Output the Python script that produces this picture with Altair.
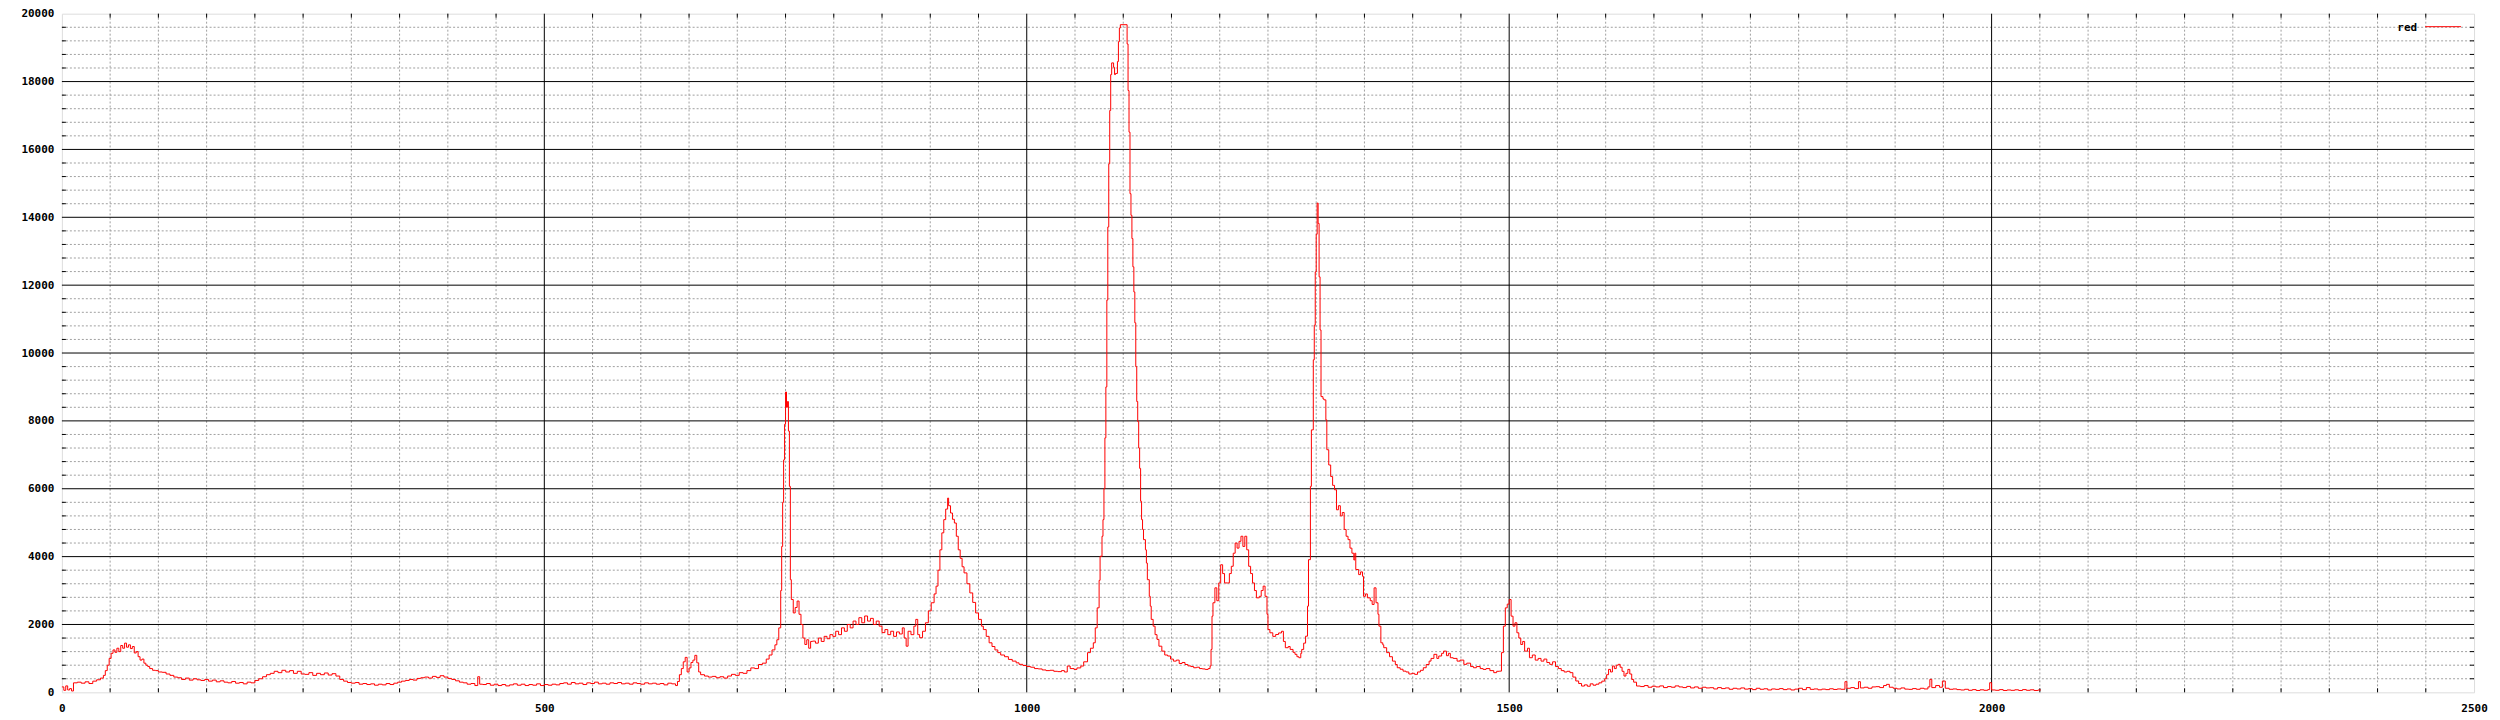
import altair as alt
import pandas as pd

# (channel, count) samples
seg_0_500 = [
    (0, 160), (2, 60), (4, 190), (6, 70), (8, 110), (10, 40), (12, 280), (16, 300), (20, 270), (24, 310),
    (28, 260), (32, 330), (36, 370), (40, 420), (43, 500), (45, 640), (47, 800), (49, 1000), (51, 1150),
    (53, 1250), (55, 1180), (57, 1300), (59, 1200), (61, 1380), (63, 1300), (65, 1450), (67, 1330), (69, 1400),
    (71, 1290), (73, 1350), (75, 1160), (77, 1200), (79, 1050), (81, 950), (83, 980), (85, 860), (87, 800),
    (89, 760), (91, 700), (94, 650), (97, 640), (100, 600), (104, 590), (108, 540), (112, 500), (116, 450),
    (120, 430), (124, 380), (128, 420), (132, 360), (136, 400), (140, 370), (144, 350), (148, 380), (152, 330),
    (156, 360), (160, 310), (164, 340), (168, 300), (172, 280), (176, 320), (180, 270), (184, 290), (188, 250),
    (192, 300), (196, 280), (200, 350), (204, 400), (208, 460), (212, 520), (216, 560), (220, 620), (224, 580),
    (228, 650), (232, 600), (236, 640), (240, 560), (244, 620), (248, 540), (252, 530), (256, 580), (260, 500),
    (264, 560), (268, 520), (272, 570), (276, 510), (280, 550), (284, 480), (288, 380), (292, 330), (296, 290),
    (300, 270), (304, 290), (308, 240), (312, 260), (316, 230), (320, 250), (324, 210), (328, 240), (332, 220),
    (336, 260), (340, 230), (344, 270), (348, 300), (352, 330), (356, 350), (360, 380), (364, 360), (368, 410),
    (372, 430), (376, 450), (380, 420), (384, 470), (388, 440), (392, 490), (396, 450), (400, 410), (404, 380),
    (408, 340), (412, 300), (416, 280), (420, 240), (424, 260), (428, 200), (431, 460), (433, 240), (436, 230),
    (440, 260), (444, 210), (448, 240), (452, 200), (456, 230), (460, 190), (464, 220), (468, 250), (472, 210),
    (476, 240), (480, 200), (484, 230), (488, 210), (492, 250), (496, 200),
]
seg_500_1000 = [
    (500, 230), (504, 210), (508, 240), (512, 220), (516, 260), (520, 280), (524, 240), (528, 290), (532, 250),
    (536, 270), (540, 230), (544, 280), (548, 260), (552, 300), (556, 250), (560, 270), (564, 240), (568, 280),
    (572, 260), (576, 290), (580, 250), (584, 270), (588, 240), (592, 280), (596, 260), (600, 240), (604, 280),
    (608, 250), (612, 270), (616, 240), (620, 260), (624, 220), (628, 270), (632, 250), (636, 200), (638, 320),
    (640, 520), (642, 700), (644, 900), (646, 1030), (648, 600), (650, 720), (652, 880), (654, 950), (656, 1090),
    (658, 870), (660, 600), (662, 520), (666, 480), (670, 450), (674, 470), (678, 430), (682, 460), (686, 420),
    (690, 480), (694, 530), (698, 500), (702, 580), (706, 560), (710, 640), (714, 720), (718, 700), (722, 820),
    (726, 860), (730, 980), (733, 1100), (736, 1250), (739, 1400), (741, 1550), (743, 1900), (745, 3000),
    (746, 4300), (747, 5600), (748, 6850), (749, 7900), (750, 8850), (751, 8400), (752, 8570), (753, 7700),
    (754, 6070), (755, 3320), (756, 2735), (758, 2340), (760, 2500), (762, 2690), (764, 2300), (766, 2000),
    (768, 1600), (770, 1410), (772, 1550), (774, 1300), (776, 1500), (778, 1510), (781, 1450), (784, 1600),
    (787, 1500), (790, 1650), (793, 1580), (796, 1700), (799, 1650), (802, 1800), (805, 1700), (808, 1900),
    (811, 1800), (814, 2000), (817, 1900), (820, 2100), (823, 2000), (826, 2200), (829, 2050), (832, 2250),
    (835, 2100), (838, 2180), (841, 2000), (844, 2100), (847, 1950), (850, 1760), (853, 1850), (856, 1700),
    (859, 1800), (862, 1650), (865, 1780), (868, 1720), (871, 1900), (873, 1600), (875, 1360), (877, 1800),
    (880, 1700), (883, 1950), (885, 2150), (887, 1700), (889, 1610), (892, 1800), (895, 2050), (898, 2400),
    (901, 2640), (904, 2900), (906, 3130), (908, 3600), (910, 4200), (912, 4700), (914, 5090), (916, 5400),
    (918, 5725), (919, 5500), (921, 5285), (923, 5100), (925, 4990), (927, 4600), (929, 4200), (931, 3950),
    (933, 3700), (935, 3520), (938, 3200), (941, 2930), (944, 2650), (947, 2340), (950, 2150), (953, 1950),
    (955, 1850), (958, 1650), (961, 1460), (964, 1350), (967, 1250), (970, 1170), (973, 1100), (977, 1050),
    (981, 970), (985, 920), (989, 870), (992, 825), (996, 790),
]
seg_1000_1500 = [
    (1000, 760), (1004, 740), (1008, 700), (1012, 690), (1016, 660), (1020, 640), (1024, 650), (1028, 620),
    (1032, 610), (1036, 640), (1039, 600), (1042, 775), (1045, 700), (1049, 675), (1052, 720), (1056, 775),
    (1059, 900), (1063, 1170), (1066, 1300), (1069, 1460), (1071, 1900), (1073, 2490), (1075, 3300),
    (1076, 4010), (1078, 4600), (1079, 5090), (1080, 6000), (1081, 7500), (1082, 9000), (1083, 11560),
    (1084, 13715), (1085, 15578), (1086, 17147), (1087, 18206), (1088, 18550), (1090, 18420), (1091, 18206),
    (1092, 18240), (1094, 18590), (1095, 19176), (1096, 19578), (1097, 19676), (1104, 19108), (1105, 17735),
    (1106, 16510), (1107, 14696), (1108, 14059), (1109, 13373), (1110, 12540), (1111, 11800), (1112, 10890),
    (1113, 9600), (1114, 8570), (1115, 7980), (1116, 7200), (1117, 6600), (1118, 5630), (1119, 5090),
    (1120, 4800), (1121, 4500), (1123, 4200), (1124, 3810), (1125, 3320), (1127, 2830), (1128, 2540),
    (1129, 2150), (1131, 1950), (1133, 1700), (1135, 1560), (1137, 1360), (1140, 1215), (1143, 1100),
    (1146, 1070), (1149, 980), (1152, 920), (1155, 950), (1158, 850), (1161, 880), (1164, 820), (1167, 780),
    (1170, 760), (1173, 725), (1176, 740), (1179, 700), (1182, 690), (1185, 675), (1188, 700), (1190, 775),
    (1191, 1265), (1192, 2245), (1193, 2640), (1195, 3080), (1197, 2700), (1199, 3225), (1201, 3760),
    (1203, 3500), (1205, 3225), (1208, 3225), (1210, 3500), (1212, 3715), (1214, 4100), (1216, 4400),
    (1218, 4250), (1220, 4450), (1222, 4600), (1224, 4300), (1226, 4600), (1228, 4200), (1230, 3715),
    (1232, 3500), (1234, 3225), (1236, 3000), (1238, 2785), (1241, 2830), (1243, 3000), (1245, 3130),
    (1247, 2830), (1249, 2300), (1250, 1850), (1252, 1755), (1255, 1650), (1258, 1705), (1261, 1750),
    (1264, 1800), (1266, 1500), (1268, 1315), (1271, 1350), (1273, 1265), (1276, 1180), (1278, 1120),
    (1280, 1050), (1282, 1020), (1284, 1150), (1285, 1265), (1287, 1450), (1289, 1655), (1291, 2540),
    (1292, 3910), (1294, 6070), (1295, 7735), (1297, 9800), (1298, 10820), (1299, 12390), (1300, 13500),
    (1301, 14420), (1302, 13820), (1303, 12245), (1304, 10680), (1305, 8715), (1307, 8650), (1308, 8620),
    (1310, 8030), (1311, 7150), (1313, 6700), (1315, 6360), (1317, 6100), (1319, 5970), (1321, 5380),
    (1323, 5500), (1325, 5200), (1327, 5300), (1329, 4800), (1331, 4600), (1333, 4500), (1335, 4250),
    (1337, 4100), (1339, 3900), (1340, 4100), (1341, 3620), (1344, 3470), (1346, 3550), (1348, 3420),
    (1349, 2830), (1351, 2900), (1353, 2785), (1356, 2700), (1358, 2590), (1360, 3080), (1362, 2640),
    (1364, 2300), (1365, 1950), (1367, 1460), (1369, 1400), (1370, 1315), (1373, 1170), (1376, 1050),
    (1379, 920), (1382, 820), (1384, 725), (1387, 680), (1390, 625), (1393, 600), (1396, 540), (1399, 560),
    (1402, 530), (1405, 600), (1408, 650), (1411, 725), (1414, 820), (1417, 920), (1419, 1000), (1422, 1120),
    (1425, 1000), (1427, 1070), (1430, 1150), (1432, 1215), (1435, 1080), (1437, 1150), (1439, 1020),
    (1442, 1000), (1446, 920), (1449, 950), (1453, 825), (1456, 860), (1460, 760), (1463, 725), (1466, 760),
    (1470, 700), (1473, 675), (1476, 700), (1480, 640), (1484, 580), (1487, 620), (1490, 625), (1492, 1170),
    (1494, 1950), (1496, 2490), (1498, 2600),
]
seg_1500_2051 = [
    (1500, 2735), (1502, 2245), (1504, 1950), (1506, 2050), (1508, 1755), (1510, 1600), (1512, 1410),
    (1514, 1500), (1516, 1215), (1519, 1300), (1521, 1020), (1524, 1100), (1527, 950), (1530, 1000),
    (1533, 920), (1536, 980), (1539, 880), (1542, 825), (1545, 900), (1548, 760), (1551, 700), (1554, 640),
    (1557, 600), (1560, 620), (1563, 580), (1566, 450), (1569, 335), (1572, 260), (1575, 185), (1578, 220),
    (1581, 180), (1584, 250), (1587, 210), (1590, 240), (1593, 280), (1596, 330), (1599, 400), (1601, 520),
    (1603, 676), (1605, 600), (1607, 775), (1609, 700), (1611, 800), (1613, 825), (1615, 740), (1617, 620),
    (1619, 480), (1621, 560), (1623, 676), (1625, 540), (1627, 380), (1629, 300), (1632, 186), (1636, 170),
    (1640, 200), (1644, 150), (1648, 180), (1652, 160), (1656, 190), (1660, 140), (1664, 170), (1668, 150),
    (1672, 190), (1676, 160), (1680, 140), (1684, 175), (1688, 130), (1692, 160), (1696, 120), (1700, 150),
    (1704, 130), (1708, 137), (1712, 100), (1716, 140), (1720, 110), (1724, 130), (1728, 90), (1732, 120),
    (1736, 100), (1740, 130), (1744, 95), (1748, 110), (1752, 80), (1756, 120), (1760, 90), (1764, 105),
    (1768, 70), (1772, 100), (1776, 88), (1780, 110), (1784, 80), (1788, 100), (1792, 70), (1796, 95),
    (1800, 120), (1804, 80), (1808, 140), (1812, 88), (1816, 100), (1820, 75), (1824, 95), (1828, 80),
    (1832, 105), (1836, 85), (1840, 100), (1844, 90), (1848, 314), (1850, 120), (1854, 140), (1858, 110),
    (1862, 314), (1864, 130), (1868, 150), (1872, 120), (1876, 160), (1880, 167), (1884, 140), (1888, 200),
    (1891, 235), (1894, 150), (1898, 120), (1902, 100), (1906, 130), (1910, 95), (1914, 88), (1918, 110),
    (1922, 90), (1926, 120), (1930, 100), (1934, 160), (1936, 382), (1938, 140), (1942, 200), (1946, 150),
    (1949, 333), (1952, 120), (1956, 90), (1960, 100), (1964, 80), (1968, 69), (1972, 90), (1976, 60),
    (1980, 80), (1984, 55), (1988, 75), (1992, 60), (1996, 80), (1998, 284), (2000, 70), (2004, 60),
    (2008, 80), (2012, 55), (2016, 70), (2020, 59), (2024, 75), (2028, 55), (2032, 80), (2036, 60),
    (2040, 75), (2044, 55), (2048, 69), (2051, 69),
]

x_major = [0, 500, 1000, 1500, 2000, 2500]
y_major = [0, 2000, 4000, 6000, 8000, 10000, 12000, 14000, 16000, 18000, 20000]
x_minor = [v for v in range(50, 2500, 50) if v % 500 != 0]
y_minor = [v for v in range(400, 20000, 400) if v % 2000 != 0]
series_name = "red"

W, H = 2417, 680
FONT = "DejaVu Sans Mono"

pts = seg_0_500 + seg_500_1000 + seg_1000_1500 + seg_1500_2051
df = pd.DataFrame(pts, columns=["channel", "count"])

xs = alt.Scale(domain=[0, 2500], nice=False, zero=False)
ys = alt.Scale(domain=[0, 20000], nice=False)

axis_common = dict(labelFont=FONT, labelFontWeight="bold", labelFontSize=11, labelColor="black",
                   ticks=False, domain=False, grid=False, title=None, format="d")
XAX = alt.Axis(values=x_major, labelPadding=10, labelFlush=False, **axis_common)
YAX = alt.Axis(values=y_major, labelPadding=8, **axis_common)

dfx_minor = pd.DataFrame({"channel": x_minor})
dfy_minor = pd.DataFrame({"count": y_minor})
dfx_major = pd.DataFrame({"channel": x_major[1:-1]})
dfy_major = pd.DataFrame({"count": y_major[1:-1]})

def X():
    return alt.X("channel:Q", scale=xs, axis=XAX)

def Y():
    return alt.Y("count:Q", scale=ys, axis=YAX)

gx_minor = alt.Chart(dfx_minor).mark_rule(color="#a0a0a0", strokeDash=[2, 2], strokeWidth=1).encode(
    x=X(), y=alt.value(0), y2=alt.value(H))
gy_minor = alt.Chart(dfy_minor).mark_rule(color="#a0a0a0", strokeDash=[2, 2], strokeWidth=1).encode(
    y=Y(), x=alt.value(0), x2=alt.value(W))
gx_major = alt.Chart(dfx_major).mark_rule(color="black", strokeWidth=1).encode(
    x=X(), y=alt.value(0), y2=alt.value(H))
gy_major = alt.Chart(dfy_major).mark_rule(color="black", strokeWidth=1).encode(
    y=Y(), x=alt.value(0), x2=alt.value(W))

T = 4
tk_bottom = alt.Chart(dfx_minor).mark_rule(color="black").encode(
    x=X(), y=alt.value(H - T), y2=alt.value(H))
tk_top = alt.Chart(dfx_minor).mark_rule(color="black").encode(
    x=X(), y=alt.value(0), y2=alt.value(T))
tk_left = alt.Chart(dfy_minor).mark_rule(color="black").encode(
    y=Y(), x=alt.value(0), x2=alt.value(T))
tk_right = alt.Chart(dfy_minor).mark_rule(color="black").encode(
    y=Y(), x=alt.value(W - T), x2=alt.value(W))

line = alt.Chart(df).mark_line(color="#ff0000", strokeWidth=1, interpolate="step-after").encode(
    x=X(), y=Y())

leg_df = pd.DataFrame({"name": [series_name]})
leg_text = alt.Chart(leg_df).mark_text(font=FONT, fontWeight="bold", fontSize=11, align="right",
                                        baseline="middle", color="black").encode(
    text="name:N", x=alt.value(W - 57), y=alt.value(14))
leg_line = alt.Chart(leg_df).mark_rule(color="#ff0000", strokeWidth=1).encode(
    x=alt.value(W - 49), x2=alt.value(W - 13), y=alt.value(13))

chart = alt.layer(
    gx_minor, gy_minor, gx_major, gy_major, tk_bottom, tk_top, tk_left, tk_right, line, leg_text, leg_line
).properties(
    width=W, height=H, autosize="none",
    padding={"left": 54, "top": 5, "right": 18, "bottom": 26},
).configure_view(stroke="black", strokeWidth=1).configure(background="white")

chart.save("out.html", embed_options={"renderer": "svg", "actions": False})
